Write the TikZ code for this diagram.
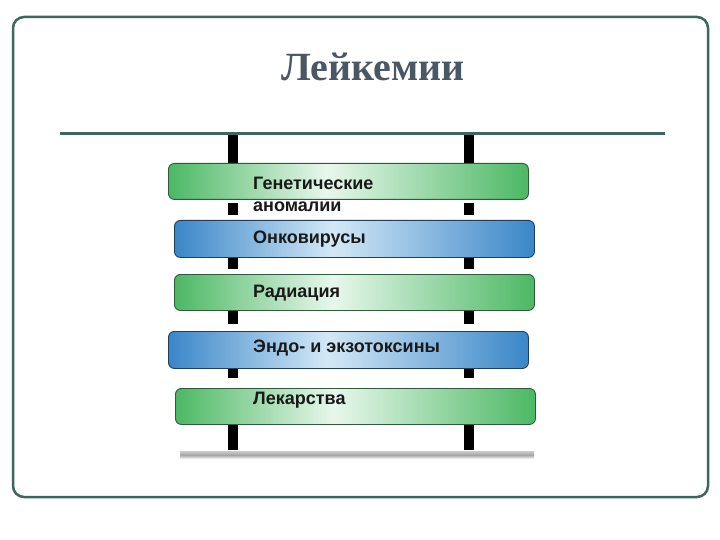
\documentclass[tikz,border=0pt]{standalone}
\usepackage{fontspec}
\setmainfont{Liberation Serif}
\newfontfamily\barfont{Liberation Sans}
\definecolor{frame}{HTML}{3D6660}
\definecolor{titlec}{HTML}{4A5866}
\definecolor{gdark}{HTML}{4CB864}
\definecolor{glight}{HTML}{E8F7EC}
\definecolor{bdark}{HTML}{3A86C8}
\definecolor{blight}{HTML}{D3E8F6}
\definecolor{gedge}{HTML}{2F5A3C}
\definecolor{bedge}{HTML}{1F3F5C}
\pgfdeclarehorizontalshading{greensh}{100bp}{color(0bp)=(gdark); color(25bp)=(gdark); color(47bp)=(glight); color(75bp)=(gdark); color(100bp)=(gdark)}
\pgfdeclarehorizontalshading{bluesh}{100bp}{color(0bp)=(bdark); color(25bp)=(bdark); color(47bp)=(blight); color(75bp)=(bdark); color(100bp)=(bdark)}
\begin{document}
\begin{tikzpicture}[x=1pt,y=-1pt,
  greenbar/.style={draw=gedge,line width=0.9pt,rounded corners=6pt,
    shading=greensh,
    minimum width=360pt,minimum height=36pt,inner sep=0pt,anchor=north west},
  bluebar/.style={draw=bedge,line width=0.9pt,rounded corners=6pt,
    shading=bluesh,
    minimum width=360pt,minimum height=37pt,inner sep=0pt,anchor=north west},
  bartext/.style={font=\barfont\bfseries\fontsize{18}{21}\selectfont,
    text=black!90,anchor=west,inner sep=0pt,align=left},
  post/.style={fill=black}]
\useasboundingbox (0,0) rectangle (720,540);
\fill[white] (0,0) rectangle (720,540);
% frame
\draw[frame,line width=2.5pt,rounded corners=11pt] (13,17) rectangle (708,497);
% title
\node[font=\bfseries\fontsize{40}{44}\selectfont,text=titlec] (title) at (373,67) {Лейкемии};
% rule
\draw[frame,line width=3pt] (60,134) -- (665,134);
% posts
\foreach \px in {233,469}{
  \fill[post] (\px-5,135) rectangle (\px+5,163);
  \fill[post] (\px-5,203) rectangle (\px+5,215);
  \fill[post] (\px-5,257) rectangle (\px+5,269);
  \fill[post] (\px-5,311) rectangle (\px+5,324);
  \fill[post] (\px-5,368) rectangle (\px+5,378);
  \fill[post] (\px-5,424) rectangle (\px+5,450);
}
% bottom shadow bar
\shade[top color=gray!40,bottom color=gray!70] (180,451) rectangle (534,455);
\shade[top color=gray!70,bottom color=white] (180,455) rectangle (534,459);
% bars
\node[greenbar] (b1) at (168,163) {};
\node[bluebar]  (b2) at (174,220) {};
\node[greenbar] (b3) at (174,274) {};
\node[bluebar]  (b4) at (168,331) {};
\node[greenbar] (b5) at (175,388) {};
% texts
\node[bartext,anchor=north west] (t1) at (253,177) {Генетические\\[1pt]аномалии};
\node[bartext] (t2) at (253,239) {Онковирусы};
\node[bartext] (t3) at (253,293) {Радиация};
\node[bartext] (t4) at (253,348) {Эндо- и экзотоксины};
\node[bartext] (t5) at (253,400) {Лекарства};
\end{tikzpicture}
\end{document}
